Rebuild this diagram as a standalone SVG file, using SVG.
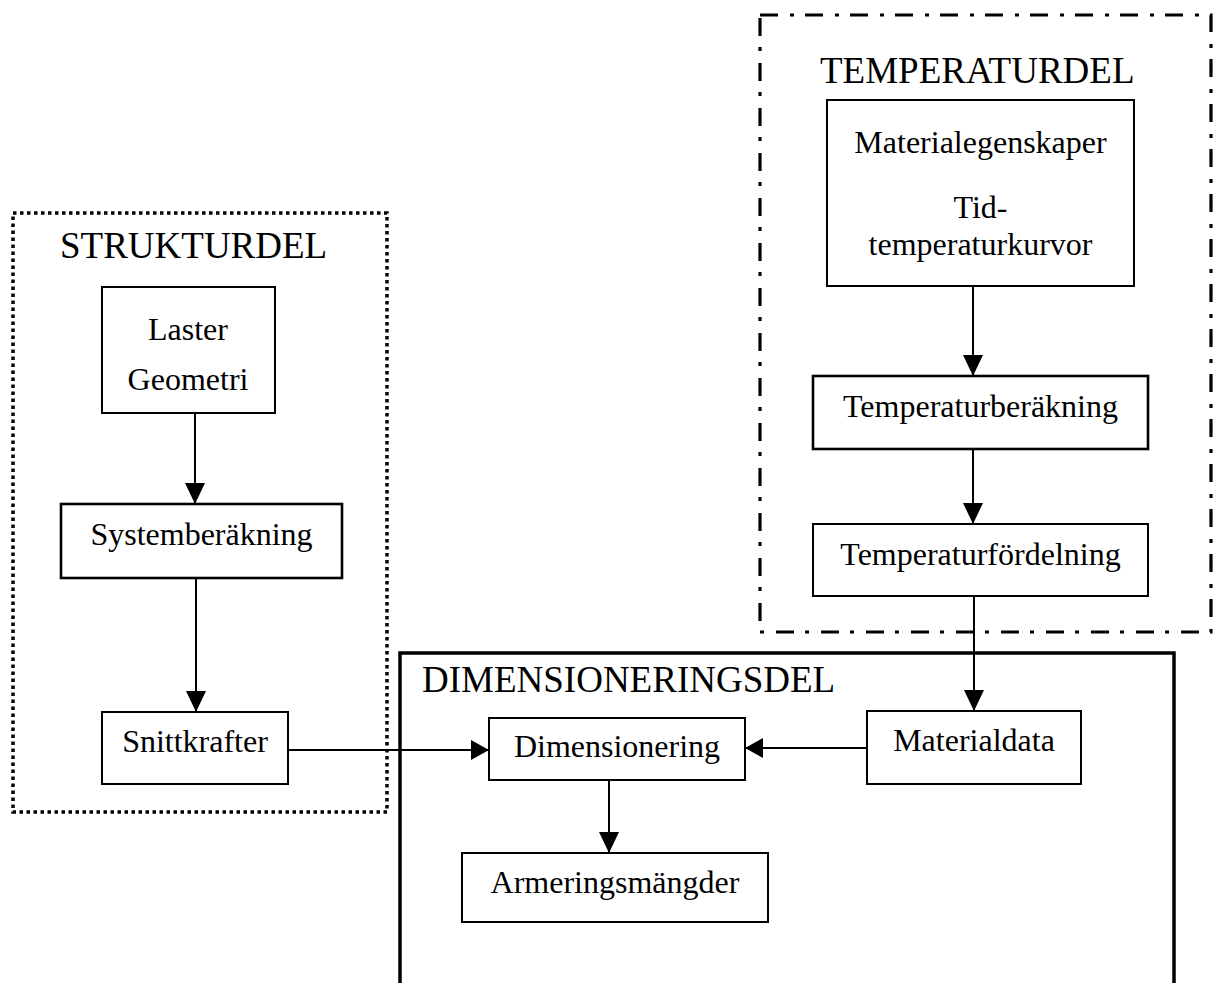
<svg xmlns="http://www.w3.org/2000/svg" width="1213" height="983" viewBox="0 0 1213 983">
<style>
  .box { fill: #fff; stroke: #000; stroke-width: 2; }
  .thick { stroke-width: 2.6; }
  .lbl { font-family: "Liberation Serif", "Times New Roman", serif; font-size: 32px; fill: #000; text-anchor: middle; }
  .title { font-family: "Liberation Serif", "Times New Roman", serif; font-size: 37px; fill: #000; }
  .edge { fill: none; stroke: #000; stroke-width: 2; }
</style>
<defs>
  <marker id="arrV" markerUnits="userSpaceOnUse" markerWidth="21" markerHeight="20" refX="21" refY="10" orient="auto">
    <path d="M0,0 L21,10 L0,20 Z" fill="#000"/>
  </marker>
  <marker id="arrH" markerUnits="userSpaceOnUse" markerWidth="18" markerHeight="20" refX="18" refY="10" orient="auto">
    <path d="M0,0 L18,10 L0,20 Z" fill="#000"/>
  </marker>
</defs>
<rect width="1213" height="983" fill="#fff"/>

<!-- group frames -->
<g id="strukturdel">
  <rect x="13" y="213" width="374" height="599" fill="none" stroke="#000" stroke-width="3.5" stroke-dasharray="3.5 3.5"/>
  <text class="title" x="60" y="258">STRUKTURDEL</text>
</g>
<g id="temperaturdel">
  <rect x="760" y="15" width="451" height="617" fill="none" stroke="#000" stroke-width="3.2" stroke-dasharray="18 12 4 11"/>
  <text class="title" x="820" y="83">TEMPERATURDEL</text>
</g>
<g id="dimensioneringsdel">
  <path d="M400,990 L400,653 L1174,653 L1174,990" fill="none" stroke="#000" stroke-width="3.5"/>
  <text class="title" x="422" y="692">DIMENSIONERINGSDEL</text>
</g>

<!-- connectors -->
<g id="connectors">
  <line class="edge" x1="195" y1="413" x2="195" y2="504" marker-end="url(#arrV)"/>
  <line class="edge" x1="196" y1="578" x2="196" y2="712" marker-end="url(#arrV)"/>
  <line class="edge" x1="288" y1="750" x2="489" y2="750" marker-end="url(#arrH)"/>
  <line class="edge" x1="973" y1="286" x2="973" y2="376" marker-end="url(#arrV)"/>
  <line class="edge" x1="973" y1="449" x2="973" y2="524" marker-end="url(#arrV)"/>
  <line class="edge" x1="974" y1="596" x2="974" y2="711" marker-end="url(#arrV)"/>
  <line class="edge" x1="867" y1="748" x2="745" y2="748" marker-end="url(#arrH)"/>
  <line class="edge" x1="609" y1="780" x2="609" y2="853" marker-end="url(#arrV)"/>
</g>

<!-- nodes -->
<g id="laster-geometri">
  <rect class="box" x="102" y="287" width="173" height="126"/>
  <text class="lbl" x="188" y="340">Laster</text>
  <text class="lbl" x="188" y="390">Geometri</text>
</g>
<g id="systemberakning">
  <rect class="box thick" x="61" y="504" width="281" height="74"/>
  <text class="lbl" x="201.5" y="545">Systemberäkning</text>
</g>
<g id="snittkrafter">
  <rect class="box" x="102" y="712" width="186" height="72"/>
  <text class="lbl" x="195" y="752">Snittkrafter</text>
</g>
<g id="materialegenskaper">
  <rect class="box" x="827" y="100" width="307" height="186"/>
  <text class="lbl" x="980.5" y="153">Materialegenskaper</text>
  <text class="lbl" x="980.5" y="218">Tid-</text>
  <text class="lbl" x="980.5" y="255">temperaturkurvor</text>
</g>
<g id="temperaturberakning">
  <rect class="box thick" x="813" y="376" width="335" height="73"/>
  <text class="lbl" x="980.5" y="417">Temperaturberäkning</text>
</g>
<g id="temperaturfordelning">
  <rect class="box" x="813" y="524" width="335" height="72"/>
  <text class="lbl" x="980.5" y="565">Temperaturfördelning</text>
</g>
<g id="dimensionering">
  <rect class="box" x="489" y="718" width="256" height="62"/>
  <text class="lbl" x="617" y="757">Dimensionering</text>
</g>
<g id="materialdata">
  <rect class="box" x="867" y="711" width="214" height="73"/>
  <text class="lbl" x="974" y="751">Materialdata</text>
</g>
<g id="armeringsmangder">
  <rect class="box" x="462" y="853" width="306" height="69"/>
  <text class="lbl" x="615" y="893">Armeringsmängder</text>
</g>
</svg>
